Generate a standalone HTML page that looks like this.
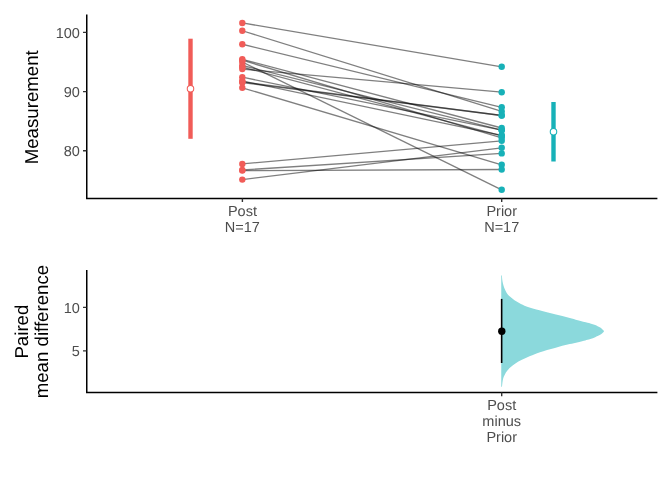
<!DOCTYPE html>
<html><head><meta charset="utf-8"><title>Paired plot</title>
<style>
html,body{margin:0;padding:0;background:#fff;}
svg{display:block;will-change:transform;font-family:"Liberation Sans",sans-serif;text-rendering:geometricPrecision;}
.ax{stroke:#000;stroke-width:1.5;fill:none;stroke-linecap:butt}
.tk{stroke:#333;stroke-width:1.4;fill:none}
.at{font-size:14.5px;fill:#4D4D4D}
.tt{font-size:18.67px;fill:#000}
</style></head><body>
<svg width="672" height="480" viewBox="0 0 672 480">
<rect width="672" height="480" fill="#fff"/>
<!-- top panel -->
<g stroke="#000" stroke-opacity="0.5" stroke-width="1.3">
<line x1="242.3" y1="22.95" x2="501.7" y2="66.8"/>
<line x1="242.3" y1="30.75" x2="501.7" y2="111.4"/>
<line x1="242.3" y1="44.25" x2="501.7" y2="107.3"/>
<line x1="242.3" y1="59.3" x2="501.7" y2="128.0"/>
<line x1="242.3" y1="60.2" x2="501.7" y2="137.8"/>
<line x1="242.3" y1="62.0" x2="501.7" y2="189.8"/>
<line x1="242.3" y1="65.5" x2="501.7" y2="130.2"/>
<line x1="242.3" y1="67.1" x2="501.7" y2="135.8"/>
<line x1="242.3" y1="69.0" x2="501.7" y2="92.2"/>
<line x1="242.3" y1="77.2" x2="501.7" y2="130.2"/>
<line x1="242.3" y1="81.0" x2="501.7" y2="135.3"/>
<line x1="242.3" y1="81.8" x2="501.7" y2="115.5"/>
<line x1="242.3" y1="82.6" x2="501.7" y2="115.5"/>
<line x1="242.3" y1="87.8" x2="501.7" y2="164.8"/>
<line x1="242.3" y1="163.9" x2="501.7" y2="140.8"/>
<line x1="242.3" y1="170.0" x2="501.7" y2="153.4"/>
<line x1="242.3" y1="170.6" x2="501.7" y2="169.5"/>
<line x1="242.3" y1="179.6" x2="501.7" y2="147.8"/>
</g>
<g fill="#F15C58">
<circle cx="242.3" cy="22.95" r="3.2"/>
<circle cx="242.3" cy="30.75" r="3.2"/>
<circle cx="242.3" cy="44.25" r="3.2"/>
<circle cx="242.3" cy="59.3" r="3.2"/>
<circle cx="242.3" cy="60.2" r="3.2"/>
<circle cx="242.3" cy="62.0" r="3.2"/>
<circle cx="242.3" cy="65.5" r="3.2"/>
<circle cx="242.3" cy="67.1" r="3.2"/>
<circle cx="242.3" cy="69.0" r="3.2"/>
<circle cx="242.3" cy="77.2" r="3.2"/>
<circle cx="242.3" cy="81.0" r="3.2"/>
<circle cx="242.3" cy="81.8" r="3.2"/>
<circle cx="242.3" cy="82.6" r="3.2"/>
<circle cx="242.3" cy="87.8" r="3.2"/>
<circle cx="242.3" cy="163.9" r="3.2"/>
<circle cx="242.3" cy="170.0" r="3.2"/>
<circle cx="242.3" cy="170.6" r="3.2"/>
<circle cx="242.3" cy="179.6" r="3.2"/>
</g>
<g fill="#17B1B8">
<circle cx="501.7" cy="66.8" r="3.2"/>
<circle cx="501.7" cy="111.4" r="3.2"/>
<circle cx="501.7" cy="107.3" r="3.2"/>
<circle cx="501.7" cy="128.0" r="3.2"/>
<circle cx="501.7" cy="137.8" r="3.2"/>
<circle cx="501.7" cy="189.8" r="3.2"/>
<circle cx="501.7" cy="130.2" r="3.2"/>
<circle cx="501.7" cy="135.8" r="3.2"/>
<circle cx="501.7" cy="92.2" r="3.2"/>
<circle cx="501.7" cy="130.2" r="3.2"/>
<circle cx="501.7" cy="135.3" r="3.2"/>
<circle cx="501.7" cy="115.5" r="3.2"/>
<circle cx="501.7" cy="115.5" r="3.2"/>
<circle cx="501.7" cy="164.8" r="3.2"/>
<circle cx="501.7" cy="140.8" r="3.2"/>
<circle cx="501.7" cy="153.4" r="3.2"/>
<circle cx="501.7" cy="169.5" r="3.2"/>
<circle cx="501.7" cy="147.8" r="3.2"/>
</g>
<line x1="190.5" y1="38.7" x2="190.5" y2="138.8" stroke="#F15C58" stroke-width="4.4"/>
<circle cx="190.5" cy="88.7" r="3.25" fill="#fff" stroke="#F15C58" stroke-width="1.05"/>
<line x1="553.5" y1="102" x2="553.5" y2="161.5" stroke="#17B1B8" stroke-width="4.4"/>
<circle cx="553.5" cy="131.7" r="3.25" fill="#fff" stroke="#17B1B8" stroke-width="1.05"/>
<path class="ax" d="M86.75,14.5 V198.45 H657.4"/>
<path class="tk" d="M83,32.4H86.5 M83,91.6H86.5 M83,150.8H86.5 M242.4,198.5V202.1 M501.7,198.5V202.1"/>
<g class="at" text-anchor="end">
<text x="79.9" y="37.7">100</text>
<text x="79.9" y="96.9">90</text>
<text x="79.9" y="156.1">80</text>
</g>
<g class="at" text-anchor="middle">
<text x="242.4" y="215.7">Post</text>
<text x="242.4" y="231.7">N=17</text>
<text x="501.7" y="215.7">Prior</text>
<text x="501.7" y="231.7">N=17</text>
</g>
<text class="tt" text-anchor="middle" transform="translate(37.9,107.3) rotate(-90)">Measurement</text>
<!-- bottom panel -->
<path d="M502.0,275.5 C502.0,276.1 502.0,277.8 502.2,279.2 C502.4,280.6 502.6,282.3 503.0,283.8 C503.4,285.3 503.8,286.8 504.4,288.3 C505.0,289.8 505.8,291.5 506.7,292.9 C507.6,294.3 508.6,295.4 509.9,296.6 C511.2,297.8 512.7,299.1 514.5,300.3 C516.3,301.5 518.5,302.8 520.9,303.9 C523.3,305.0 525.6,306.1 528.7,307.2 C531.8,308.2 535.1,309.0 539.5,310.2 C543.9,311.4 549.9,312.9 554.9,314.2 C559.9,315.5 564.8,316.6 569.8,317.9 C574.8,319.2 581.2,321.1 584.6,322.0 C588.0,322.9 588.5,322.9 590.3,323.4 C592.1,323.9 593.6,324.4 595.2,325.0 C596.8,325.6 598.6,326.7 599.7,327.3 C600.8,327.9 601.4,328.4 602.0,328.9 C602.6,329.4 603.0,329.9 603.3,330.2 C603.6,330.5 603.6,330.5 603.8,330.7 C603.9,330.9 603.9,331.0 603.9,331.2 C603.9,331.4 603.9,331.5 603.8,331.7 C603.6,331.9 603.6,331.9 603.3,332.2 C603.0,332.5 602.6,333.0 602.0,333.5 C601.4,334.0 600.8,334.5 599.7,335.1 C598.6,335.7 596.8,336.6 595.2,337.2 C593.7,337.8 592.0,338.5 590.4,339.0 C588.8,339.5 588.7,339.5 585.3,340.4 C581.9,341.2 574.9,342.9 569.8,344.1 C564.7,345.4 559.9,346.5 554.9,347.9 C549.9,349.2 544.1,350.8 540.0,352.2 C535.9,353.6 533.1,354.8 530.1,356.1 C527.1,357.4 524.3,358.6 521.9,359.8 C519.4,361.0 517.2,362.2 515.4,363.4 C513.6,364.6 512.2,365.9 510.8,367.1 C509.4,368.3 508.2,369.6 507.2,370.8 C506.2,372.0 505.5,373.2 504.9,374.4 C504.2,375.6 503.7,376.7 503.3,378.1 C502.9,379.5 502.6,381.2 502.4,382.7 C502.2,384.1 502.1,386.1 502.0,386.8 L501.25,386.8 L501.25,275.5 Z" fill="#8BD9DC"/>
<line x1="501.65" y1="298.9" x2="501.65" y2="363.0" stroke="#000" stroke-width="1.6"/>
<circle cx="501.8" cy="331.2" r="3.7" fill="#000"/>
<path class="ax" d="M86.75,270 V392.6 H657.4"/>
<path class="tk" d="M83,307.4H86.5 M83,350.9H86.5 M501.7,392.6V396.2"/>
<g class="at" text-anchor="end">
<text x="79.9" y="312.7">10</text>
<text x="79.9" y="356.2">5</text>
</g>
<g class="at" text-anchor="middle">
<text x="501.7" y="409.8">Post</text>
<text x="501.7" y="425.7">minus</text>
<text x="501.7" y="441.5">Prior</text>
</g>
<text class="tt" text-anchor="middle" transform="translate(28.3,331.6) rotate(-90)">Paired</text>
<text class="tt" text-anchor="middle" transform="translate(48.2,331.6) rotate(-90)">mean difference</text>
</svg>
</body></html>
